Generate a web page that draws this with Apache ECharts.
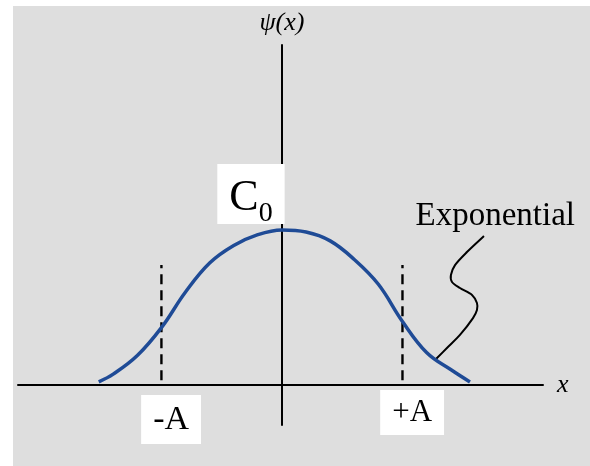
<!DOCTYPE html>
<html>
<head>
<meta charset="utf-8">
<script src="https://cdn.jsdelivr.net/npm/echarts@6/dist/echarts.min.js"></script>
<style>
  html, body { margin: 0; padding: 0; background: #fff; }
  #main { width: 590px; height: 466px; }
</style>
</head>
<body>
<div id="main"></div>
<script>
// wave function curve (x in units of A, y in units of C0)
var curveX = [-1.52, -1.4, -1.2, -1.0, -0.8, -0.6, -0.4, -0.2, 0, 0.2, 0.4, 0.6, 0.8, 1.0, 1.2, 1.4, 1.56];
var curveY = [0.02, 0.07, 0.19, 0.37, 0.60, 0.787, 0.90, 0.97, 1.0, 0.987, 0.93, 0.81, 0.65, 0.41, 0.21, 0.10, 0.02];

// classical turning points
var turnX = [-1, 1];
var turnY = [0.03, 0.774];

// pointer from "Exponential" to the tail
var pointerX = [1.676, 1.535, 1.436, 1.402, 1.411, 1.477, 1.577, 1.618, 1.618, 1.585, 1.477, 1.369, 1.27];
var pointerY = [0.961, 0.858, 0.774, 0.710, 0.665, 0.626, 0.581, 0.529, 0.484, 0.432, 0.323, 0.239, 0.161];

// text labels
var labelNames = ['C0', '-A', '+A', 'Exponential'];
var labelX = [-0.257, -0.92, 1.08, 1.77];
var labelY = [1.232, -0.223, -0.177, 1.09];

var serif = '"Liberation Serif", "DejaVu Serif", serif';

var chart = echarts.init(document.getElementById('main'));

function pairs(xs, ys) {
    return xs.map(function (x, i) { return [x, ys[i]]; });
}

// catmull-rom through pixel points -> svg path
function smoothPath(pts) {
    var d = 'M' + pts[0][0] + ' ' + pts[0][1];
    for (var i = 0; i < pts.length - 1; i++) {
        var p0 = pts[Math.max(i - 1, 0)], p1 = pts[i], p2 = pts[i + 1], p3 = pts[Math.min(i + 2, pts.length - 1)];
        var c1x = p1[0] + (p2[0] - p0[0]) / 6, c1y = p1[1] + (p2[1] - p0[1]) / 6;
        var c2x = p2[0] - (p3[0] - p1[0]) / 6, c2y = p2[1] - (p3[1] - p1[1]) / 6;
        d += ' C' + c1x + ' ' + c1y + ' ' + c2x + ' ' + c2y + ' ' + p2[0] + ' ' + p2[1];
    }
    return d;
}

var series = [];

// curve
series.push({
    type: 'line',
    data: pairs(curveX, curveY),
    smooth: 0.4,
    symbol: 'none',
    lineStyle: { color: '#1f4b96', width: 3.5 },
    z: 3
});

// dashed lines at -A and +A
turnX.forEach(function (x) {
    series.push({
        type: 'line',
        data: [[x, turnY[0]], [x, turnY[1]]],
        symbol: 'none',
        lineStyle: { color: '#000', width: 2.4, type: [10, 6] },
        z: 2
    });
});

// pointer line
series.push({
    type: 'custom',
    data: [[pointerX[0], pointerY[0]]],
    silent: true,
    z: 2,
    renderItem: function (params, api) {
        var pts = pointerX.map(function (x, i) { return api.coord([x, pointerY[i]]); });
        return {
            type: 'path',
            shape: { pathData: smoothPath(pts) },
            style: { stroke: '#000', lineWidth: 2, fill: null }
        };
    }
});

// labels
var boxStyle = {
    'C0': { size: 44, padding: [6, 12, 4, 12] },
    '-A': { size: 34, padding: [8, 12, 7, 12] },
    '+A': { size: 31, padding: [7, 12, 7, 12] },
    'Exponential': { size: 33, padding: 0 }
};
series.push({
    type: 'scatter',
    symbolSize: 0,
    silent: true,
    z: 5,
    itemStyle: { opacity: 1 },
    data: labelNames.map(function (n, i) {
        var isBox = n !== 'Exponential';
        return {
            value: [labelX[i], labelY[i]],
            name: n,
            label: {
                show: true,
                position: 'inside',
                opacity: 1,
                fontFamily: serif,
                color: '#000',
                fontSize: boxStyle[n].size,
                backgroundColor: isBox ? '#fff' : 'transparent',
                padding: boxStyle[n].padding,
                formatter: n === 'C0' ? '{c|C}{s|0}' : n,
                rich: {
                    c: { fontFamily: serif, fontSize: 44, color: '#000', lineHeight: 50, verticalAlign: 'bottom' },
                    s: { fontFamily: serif, fontSize: 28, color: '#000', lineHeight: 50, verticalAlign: 'bottom', padding: [0, 0, -8, 0] }
                }
            }
        };
    })
});

var option = {
    animation: false,
    backgroundColor: 'transparent',
    graphic: [{
        type: 'rect',
        shape: { x: 13, y: 6, width: 590, height: 466 },
        style: { fill: '#dedede' },
        z: -10
    }],
    grid: { left: 18, top: 45, width: 525, height: 380 },
    xAxis: {
        type: 'value',
        min: -2.19,
        max: 2.166,
        name: 'x',
        nameLocation: 'end',
        nameGap: 14,
        nameTextStyle: { fontFamily: serif, fontStyle: 'italic', fontSize: 26, color: '#000' },
        axisLine: { onZero: true, lineStyle: { color: '#000', width: 2 } },
        axisTick: { show: false },
        axisLabel: { show: false },
        splitLine: { show: false }
    },
    yAxis: {
        type: 'value',
        min: -0.258,
        max: 2.194,
        name: 'ψ(x)',
        nameLocation: 'end',
        nameGap: 9,
        nameTextStyle: { fontFamily: serif, fontStyle: 'italic', fontSize: 26, color: '#000' },
        axisLine: { onZero: true, lineStyle: { color: '#000', width: 2 } },
        axisTick: { show: false },
        axisLabel: { show: false },
        splitLine: { show: false }
    },
    series: series
};

chart.setOption(option);
</script>
</body>
</html>
